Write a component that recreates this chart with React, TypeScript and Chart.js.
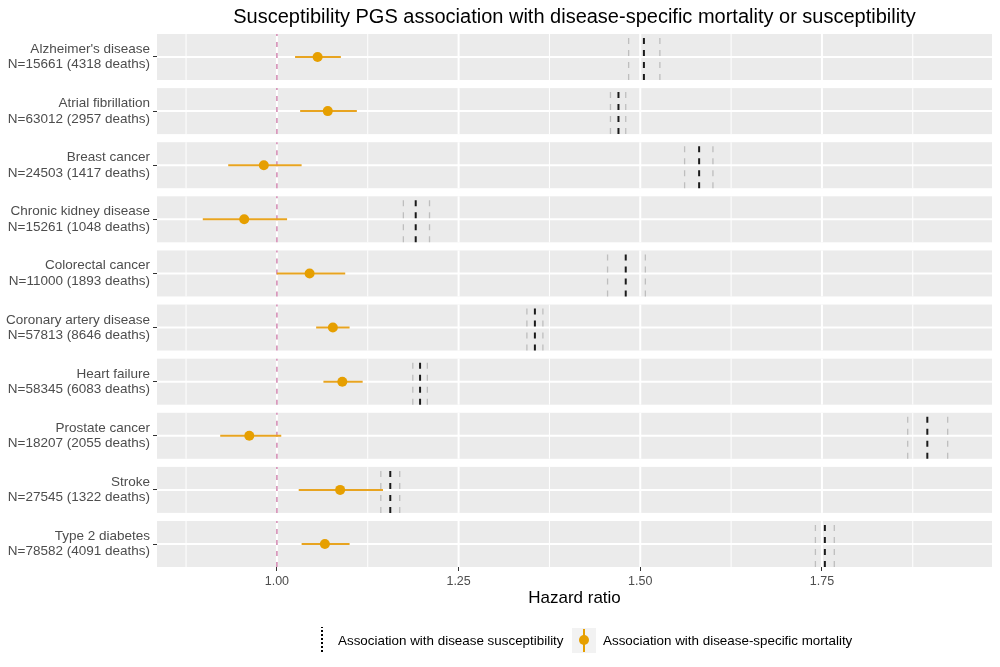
import React, { useEffect, useRef } from "react";
import { Chart, registerables } from "chart.js";
Chart.register(...registerables);

const diseases = [
  "Alzheimer's disease",
  "Atrial fibrillation",
  "Breast cancer",
  "Chronic kidney disease",
  "Colorectal cancer",
  "Coronary artery disease",
  "Heart failure",
  "Prostate cancer",
  "Stroke",
  "Type 2 diabetes",
];
const sampleLabels = [
  "N=15661 (4318 deaths)",
  "N=63012 (2957 deaths)",
  "N=24503 (1417 deaths)",
  "N=15261 (1048 deaths)",
  "N=11000 (1893 deaths)",
  "N=57813 (8646 deaths)",
  "N=58345 (6083 deaths)",
  "N=18207 (2055 deaths)",
  "N=27545 (1322 deaths)",
  "N=78582 (4091 deaths)",
];
const mortHR = [1.056, 1.07, 0.982, 0.955, 1.045, 1.077, 1.09, 0.962, 1.087, 1.066];
const mortLo = [1.025, 1.032, 0.933, 0.898, 1.0, 1.054, 1.064, 0.922, 1.03, 1.034];
const mortHi = [1.088, 1.11, 1.034, 1.014, 1.094, 1.1, 1.118, 1.006, 1.146, 1.1];
const suscHR = [1.505, 1.47, 1.581, 1.191, 1.48, 1.355, 1.197, 1.895, 1.156, 1.754];
const suscLo = [1.484, 1.459, 1.561, 1.174, 1.455, 1.344, 1.187, 1.868, 1.143, 1.741];
const suscHi = [1.527, 1.48, 1.6, 1.21, 1.507, 1.366, 1.207, 1.923, 1.169, 1.767];
const xTicks = [1.0, 1.25, 1.5, 1.75];
const refHR = 1;

const X_MIN = 0.835;
const X_MAX = 1.984;
const HALF = 0.425;
const FONT = "'Liberation Sans', Arial, Helvetica, sans-serif";
const ORANGE = "#E69F00";

type P = { x: number; y: number | null };

function vSegments(xs: number[]): P[] {
  const out: P[] = [];
  xs.forEach((x, i) => {
    out.push({ x, y: i + HALF }, { x, y: i - HALF }, { x, y: null });
  });
  return out;
}

const panelPlugin = {
  id: "panels",
  beforeDatasetsDraw(chart: any) {
    const { ctx, chartArea } = chart;
    const xs = chart.scales.x;
    const ys = chart.scales.y;
    const step = xTicks[1] - xTicks[0];
    const minors: number[] = [];
    minors.push(xTicks[0] - step / 2);
    xTicks.forEach((t) => minors.push(t + step / 2));
    ctx.save();
    diseases.forEach((_, i) => {
      const a = ys.getPixelForValue(i - HALF);
      const b = ys.getPixelForValue(i + HALF);
      const top = Math.min(a, b);
      const bot = Math.max(a, b);
      ctx.fillStyle = "#EBEBEB";
      ctx.fillRect(chartArea.left, top, chartArea.right - chartArea.left, bot - top);
      ctx.strokeStyle = "#FFFFFF";
      ctx.lineWidth = 1;
      minors.forEach((m) => {
        if (m <= X_MIN || m >= X_MAX) return;
        const px = xs.getPixelForValue(m);
        ctx.beginPath();
        ctx.moveTo(px, top);
        ctx.lineTo(px, bot);
        ctx.stroke();
      });
      ctx.lineWidth = 2;
      xTicks.forEach((t) => {
        const px = xs.getPixelForValue(t);
        ctx.beginPath();
        ctx.moveTo(px, top);
        ctx.lineTo(px, bot);
        ctx.stroke();
      });
      const cy = ys.getPixelForValue(i);
      ctx.beginPath();
      ctx.moveTo(chartArea.left, cy);
      ctx.lineTo(chartArea.right, cy);
      ctx.stroke();
    });
    ctx.restore();
  },
};

const legendPlugin = {
  id: "customLegend",
  afterDraw(chart: any) {
    const { ctx } = chart;
    const dsSusc = chart.data.datasets.find((d: any) => d.id === "susc");
    const dsMort = chart.data.datasets.find((d: any) => d.id === "mort");
    const cy = 640;
    ctx.save();
    // key 1: dotted black line
    ctx.strokeStyle = "#000";
    ctx.lineWidth = 2;
    ctx.setLineDash([2, 2]);
    ctx.beginPath();
    ctx.moveTo(322, cy + 12);
    ctx.lineTo(322, cy - 13);
    ctx.stroke();
    ctx.setLineDash([]);
    ctx.font = `13.4px ${FONT}`;
    ctx.fillStyle = "#000";
    ctx.textBaseline = "middle";
    ctx.textAlign = "left";
    ctx.fillText(dsSusc.label, 338, cy + 1);
    // key 2
    ctx.fillStyle = "#F2F2F2";
    ctx.fillRect(572, cy - 12, 24, 25);
    ctx.strokeStyle = ORANGE;
    ctx.lineWidth = 2;
    ctx.beginPath();
    ctx.moveTo(584, cy - 11);
    ctx.lineTo(584, cy + 12);
    ctx.stroke();
    ctx.fillStyle = ORANGE;
    ctx.beginPath();
    ctx.arc(584, cy, 5, 0, Math.PI * 2);
    ctx.fill();
    ctx.fillStyle = "#000";
    ctx.fillText(dsMort.label, 603, cy + 1);
    ctx.restore();
  },
};

export default function App() {
  const ref = useRef<HTMLCanvasElement | null>(null);
  useEffect(() => {
    if (!ref.current) return;
    const ciData: P[] = [];
    mortLo.forEach((lo, i) => {
      ciData.push({ x: lo, y: i }, { x: mortHi[i], y: i }, { x: mortHi[i], y: null });
    });
    const chart = new Chart(ref.current, {
      type: "line",
      data: {
        datasets: [
          {
            id: "mort",
            label: "Association with disease-specific mortality",
            data: mortHR.map((x, i) => ({ x, y: i })),
            showLine: false,
            pointRadius: 5,
            pointBackgroundColor: ORANGE,
            pointBorderWidth: 0,
            pointBorderColor: ORANGE,
            order: 0,
          } as any,
          {
            id: "mortCI",
            label: "Mortality 95% CI",
            data: ciData,
            borderColor: "#E8A420",
            borderWidth: 2,
            pointRadius: 0,
            spanGaps: false,
            order: 1,
          } as any,
          {
            id: "susc",
            label: "Association with disease susceptibility",
            data: vSegments(suscHR),
            borderColor: "#1A1A1A",
            borderWidth: 2,
            borderDash: [6, 6],
            pointRadius: 0,
            spanGaps: false,
            order: 2,
          } as any,
          {
            id: "suscCI",
            label: "Susceptibility 95% CI",
            data: [...vSegments(suscLo), ...vSegments(suscHi)],
            borderColor: "#BEBEBE",
            borderWidth: 1.3,
            borderDash: [6, 6],
            pointRadius: 0,
            spanGaps: false,
            order: 3,
          } as any,
          {
            id: "ref",
            label: "HR = 1",
            data: vSegments(diseases.map(() => refHR)),
            borderColor: "rgba(204,121,167,0.9)",
            borderWidth: 1.5,
            borderDash: [5, 6],
            pointRadius: 0,
            spanGaps: false,
            order: 4,
          } as any,
        ],
      },
      options: {
        animation: false,
        responsive: false,
        maintainAspectRatio: false,
        devicePixelRatio: 1,
        events: [],
        layout: { padding: { left: 0, right: 8, top: 0, bottom: 58 } },
        plugins: {
          legend: { display: false },
          tooltip: { enabled: false },
          title: {
            display: true,
            fullSize: false,
            text: "Susceptibility PGS association with disease-specific mortality or susceptibility",
            color: "#000",
            font: { family: FONT, size: 20, weight: "normal" as any, lineHeight: 1.2 },
            padding: { top: 5, bottom: 5 },
          },
        },
        scales: {
          x: {
            type: "linear",
            min: X_MIN,
            max: X_MAX,
            afterBuildTicks: (scale: any) => {
              scale.ticks = xTicks.map((v) => ({ value: v }));
            },
            afterFit: (scale: any) => {
              scale.height = 42;
            },
            ticks: {
              callback: (v: any) => Number(v).toFixed(2),
              color: "#4D4D4D",
              font: { family: FONT, size: 12.5 },
              padding: 3,
              maxRotation: 0,
              autoSkip: false,
            },
            grid: {
              drawOnChartArea: false,
              drawTicks: true,
              tickLength: 4,
              tickColor: "#333333",
              tickWidth: 1,
            },
            border: { display: false },
            title: {
              display: true,
              text: "Hazard ratio",
              color: "#000",
              font: { family: FONT, size: 17 },
              padding: { top: 0, bottom: 0 },
            },
          },
          y: {
            type: "linear",
            reverse: true,
            min: -HALF,
            max: diseases.length - 1 + HALF,
            afterBuildTicks: (scale: any) => {
              scale.ticks = diseases.map((_, i) => ({ value: i }));
            },
            afterFit: (scale: any) => {
              scale.width = 157;
            },
            ticks: {
              callback: (_v: any, i: number) => [diseases[i], sampleLabels[i]],
              color: "#4D4D4D",
              font: { family: FONT, size: 13.5, lineHeight: 1.15 },
              padding: 3,
              autoSkip: false,
            },
            grid: {
              drawOnChartArea: false,
              drawTicks: true,
              tickLength: 4,
              tickColor: "#333333",
              tickWidth: 1,
            },
            border: { display: false },
          },
        },
      },
      plugins: [panelPlugin, legendPlugin],
    } as any);
    return () => chart.destroy();
  }, []);
  return (
    <div style={{ position: "absolute", left: 0, top: 0, width: 1000, height: 667, background: "#fff" }}>
      <canvas ref={ref} width={1000} height={667} />
    </div>
  );
}
